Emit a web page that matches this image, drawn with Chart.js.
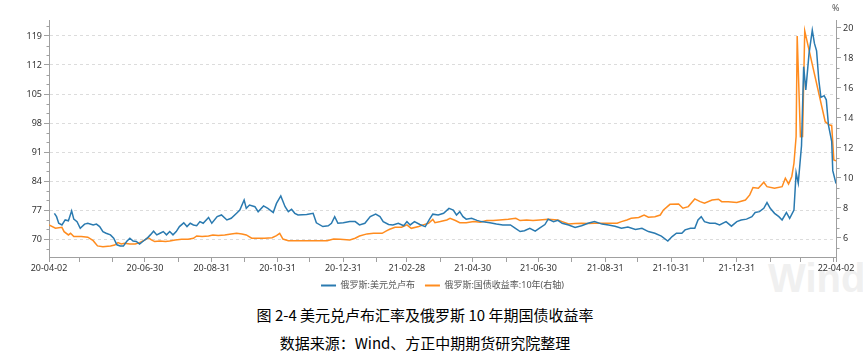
<!DOCTYPE html>
<html>
<head>
<meta charset="utf-8">
<script src="https://cdn.jsdelivr.net/npm/chart.js@4.4.1/dist/chart.umd.min.js"></script>
<style>
  html, body { margin: 0; padding: 0; background: #fff; }
  #wrap { position: relative; width: 863px; height: 359px; overflow: hidden; }
  #chartBox { position: absolute; left: 0; top: 0; width: 863px; height: 300px; }
  .unit { position: absolute; left: 832px; top: 1px; font: 9px "Noto Sans", sans-serif; color: #555; }
  .caption { position: absolute; left: 0; width: 850px; text-align: center;
             font: 15px "Noto Sans CJK SC", sans-serif; color: #000; line-height: 20px; }
  .mark { position: absolute; left: 768px; top: 256px; font: bold 40px "Liberation Sans", Arial, sans-serif; color: #f0f0f0; }
</style>
</head>
<body>
<div id="wrap">
  <div class="mark">Wind</div>
  <div id="chartBox"><canvas id="rubChart" width="863" height="300"></canvas></div>
  <span class="unit">%</span>
  <div class="caption" style="top:305px">图 2-4 美元兑卢布汇率及俄罗斯 10 年期国债收益率</div>
  <div class="caption" style="top:333px">数据来源：Wind、方正中期期货研究院整理</div>
</div>

<script>
/* ─── Data ─── */
const fxLabel    = "俄罗斯:美元兑卢布";
const yieldLabel = "俄罗斯:国债收益率:10年(右轴)";

const fxDates = [
  "2020-04-07","2020-04-09","2020-04-11","2020-04-14","2020-04-17","2020-04-20","2020-04-23","2020-04-25","2020-04-28","2020-05-01",
  "2020-05-05","2020-05-08","2020-05-13","2020-05-16","2020-05-19","2020-05-22","2020-05-25","2020-05-29","2020-06-01","2020-06-04",
  "2020-06-07","2020-06-10","2020-06-13","2020-06-16","2020-06-19","2020-06-22","2020-06-25","2020-06-28","2020-07-02","2020-07-05",
  "2020-07-08","2020-07-11","2020-07-14","2020-07-17","2020-07-20","2020-07-23","2020-07-26","2020-07-29","2020-08-01","2020-08-05",
  "2020-08-08","2020-08-11","2020-08-14","2020-08-17","2020-08-20","2020-08-23","2020-08-28","2020-08-31","2020-09-05","2020-09-09",
  "2020-09-14","2020-09-18","2020-09-23","2020-09-26","2020-09-30","2020-10-02","2020-10-05","2020-10-10","2020-10-13","2020-10-18",
  "2020-10-22","2020-10-27","2020-10-30","2020-11-03","2020-11-07","2020-11-10","2020-11-13","2020-11-16","2020-11-19","2020-11-27",
  "2020-12-03","2020-12-06","2020-12-12","2020-12-17","2020-12-20","2020-12-23","2020-12-26","2020-12-31","2021-01-06","2021-01-11",
  "2021-01-15","2021-01-20","2021-01-25","2021-01-30","2021-02-03","2021-02-06","2021-02-11","2021-02-15","2021-02-20","2021-02-25",
  "2021-02-28","2021-03-03","2021-03-07","2021-03-12","2021-03-17","2021-03-21","2021-03-24","2021-03-29","2021-04-03","2021-04-08",
  "2021-04-12","2021-04-15","2021-04-18","2021-04-21","2021-04-24","2021-04-29","2021-05-04","2021-05-08","2021-05-16","2021-05-22",
  "2021-05-28","2021-06-04","2021-06-08","2021-06-13","2021-06-17","2021-06-22","2021-06-27","2021-07-01","2021-07-06","2021-07-09",
  "2021-07-14","2021-07-18","2021-07-22","2021-07-28","2021-08-03","2021-08-09","2021-08-15","2021-08-21","2021-08-28","2021-09-03",
  "2021-09-09","2021-09-15","2021-09-21","2021-09-28","2021-10-04","2021-10-10","2021-10-16","2021-10-22","2021-10-28","2021-11-01",
  "2021-11-05","2021-11-10","2021-11-13","2021-11-18","2021-11-22","2021-11-25","2021-11-28","2021-12-01","2021-12-06","2021-12-11",
  "2021-12-15","2021-12-21","2021-12-26","2021-12-31","2022-01-04","2022-01-09","2022-01-14","2022-01-17","2022-01-21","2022-01-25",
  "2022-01-28","2022-01-31","2022-02-04","2022-02-08","2022-02-11","2022-02-15","2022-02-18","2022-02-22","2022-02-24","2022-02-26",
  "2022-03-01","2022-03-03","2022-03-05","2022-03-08","2022-03-11","2022-03-13","2022-03-15","2022-03-17","2022-03-19","2022-03-22",
  "2022-03-24","2022-03-26","2022-03-29","2022-03-30","2022-04-02"
];
const fxValues = [
  76.2, 75.4, 73.8, 73.4, 74.6, 74.4, 76.8, 74.8, 74.2, 72.6,
  73.6, 73.8, 73.4, 73.6, 73.0, 71.8, 71.4, 71.0, 70.2, 68.6,
  68.3, 68.3, 69.4, 70.2, 69.5, 69.4, 68.8, 69.4, 70.2, 71.0,
  71.9, 71.0, 71.4, 71.8, 71.0, 71.8, 71.0, 71.8, 73.0, 73.9,
  73.0, 73.8, 73.4, 73.2, 74.2, 73.8, 75.2, 73.8, 75.4, 75.8,
  74.6, 75.0, 76.2, 77.0, 79.4, 77.4, 78.2, 77.8, 76.6, 78.0,
  77.4, 76.4, 78.6, 80.4, 77.8, 76.6, 77.2, 76.2, 75.8, 75.9,
  76.2, 73.9, 73.0, 73.2, 73.8, 75.4, 73.8, 73.9, 74.2, 74.2,
  73.4, 73.8, 75.4, 76.0, 75.4, 74.2, 73.5, 73.4, 73.8, 73.2,
  74.2, 73.4, 74.2, 73.5, 73.0, 74.8, 76.0, 75.8, 76.2, 77.4,
  77.0, 75.8, 76.6, 75.4, 74.8, 75.0, 74.5, 74.2, 73.9, 73.6,
  73.4, 73.4, 72.7, 71.8, 72.0, 72.6, 71.9, 72.6, 73.5, 74.8,
  74.2, 74.5, 73.8, 73.4, 72.8, 73.2, 73.8, 74.2, 73.6, 73.4,
  73.1, 72.6, 72.9, 72.3, 72.6, 71.8, 71.4, 70.7, 69.5, 70.6,
  71.4, 71.4, 72.2, 72.6, 72.6, 74.6, 75.4, 74.2, 73.8, 73.8,
  73.4, 74.2, 73.1, 74.2, 74.6, 74.8, 75.4, 76.4, 76.6, 77.4,
  78.8, 77.4, 76.2, 75.4, 74.6, 76.4, 75.0, 77.0, 86.0, 83.5,
  92.5, 111.6, 106.0, 114.8, 120.4, 117.2, 115.4, 108.5, 104.2, 104.6,
  103.6, 97.5, 93.6, 86.5, 83.4
];

const yieldDates = [
  "2020-04-02","2020-04-08","2020-04-14","2020-04-16","2020-04-20","2020-04-22","2020-04-25","2020-05-02","2020-05-08","2020-05-13",
  "2020-05-17","2020-05-22","2020-05-29","2020-06-02","2020-06-05","2020-06-08","2020-06-11","2020-06-16","2020-06-21","2020-06-25",
  "2020-06-30","2020-07-03","2020-07-06","2020-07-09","2020-07-14","2020-07-19","2020-07-23","2020-07-28","2020-08-03","2020-08-09",
  "2020-08-14","2020-08-17","2020-08-22","2020-08-28","2020-09-01","2020-09-06","2020-09-12","2020-09-18","2020-09-23","2020-09-28",
  "2020-10-02","2020-10-07","2020-10-13","2020-10-19","2020-10-26","2020-10-30","2020-11-02","2020-11-05","2020-11-10","2020-11-16",
  "2020-11-24","2020-12-03","2020-12-16","2020-12-22","2020-12-28","2021-01-06","2021-01-11","2021-01-15","2021-01-22","2021-01-28",
  "2021-02-05","2021-02-09","2021-02-12","2021-02-17","2021-02-23","2021-02-28","2021-03-04","2021-03-11","2021-03-15","2021-03-20",
  "2021-03-24","2021-03-26","2021-03-31","2021-04-06","2021-04-09","2021-04-14","2021-04-18","2021-04-24","2021-05-01","2021-05-07",
  "2021-05-13","2021-05-19","2021-05-25","2021-06-02","2021-06-09","2021-06-13","2021-06-19","2021-06-25","2021-07-01","2021-07-09",
  "2021-07-18","2021-07-22","2021-07-28","2021-08-03","2021-08-09","2021-08-15","2021-08-21","2021-08-28","2021-09-03","2021-09-11",
  "2021-09-15","2021-09-20","2021-09-24","2021-10-01","2021-10-06","2021-10-10","2021-10-16","2021-10-21","2021-10-24","2021-10-30",
  "2021-11-07","2021-11-11","2021-11-16","2021-11-22","2021-11-27","2021-12-01","2021-12-08","2021-12-14","2021-12-17","2021-12-23",
  "2021-12-31","2022-01-08","2022-01-12","2022-01-15","2022-01-20","2022-01-25","2022-01-28","2022-02-04","2022-02-11","2022-02-14",
  "2022-02-17","2022-02-20","2022-02-22","2022-02-24","2022-02-25","2022-02-28","2022-03-02","2022-03-04","2022-03-23","2022-03-27",
  "2022-03-29","2022-03-31","2022-04-02"
];
const yieldValues = [
  6.87, 6.65, 6.71, 6.42, 6.20, 6.31, 6.09, 6.09, 6.05, 5.82,
  5.47, 5.42, 5.47, 5.53, 5.69, 5.60, 5.64, 5.60, 5.60, 5.69,
  5.87, 6.02, 5.87, 5.76, 5.80, 5.76, 5.80, 5.87, 5.91, 5.91,
  5.98, 6.13, 6.09, 6.13, 6.20, 6.16, 6.20, 6.27, 6.31, 6.27,
  6.20, 5.98, 5.98, 5.98, 6.02, 6.16, 6.31, 5.93, 5.82, 5.82,
  5.82, 5.82, 5.82, 5.93, 5.91, 5.87, 5.98, 6.13, 6.27, 6.31,
  6.31, 6.47, 6.58, 6.71, 6.71, 6.87, 6.64, 6.76, 6.87, 6.98,
  7.24, 7.02, 7.09, 7.20, 7.31, 7.16, 7.02, 7.02, 7.09, 7.05,
  7.16, 7.16, 7.20, 7.24, 7.31, 7.16, 7.20, 7.16, 7.20, 7.24,
  7.20, 7.09, 6.93, 6.96, 6.98, 6.96, 6.98, 6.98, 6.98, 6.98,
  7.09, 7.20, 7.31, 7.36, 7.53, 7.38, 7.42, 7.53, 7.87, 8.24,
  8.27, 7.98, 8.09, 8.60, 8.42, 8.31, 8.53, 8.58, 8.42, 8.42,
  8.36, 8.53, 8.87, 9.36, 9.31, 9.71, 9.42, 9.31, 9.42, 9.98,
  9.60, 10.10, 10.98, 12.76, 19.47, 12.75, 12.76, 19.80, 13.75, 13.53,
  13.50, 11.20, 11.15
];

const xTickLabels = ["20-04-02","20-06-30","20-08-31","20-10-31","20-12-31","21-02-28",
                     "21-04-30","21-06-30","21-08-31","21-10-31","21-12-31","22-04-02"];
const leftTicks  = [70, 77, 84, 91, 98, 105, 112, 119];
const rightTicks = [6, 8, 10, 12, 14, 16, 18, 20];

/* ─── Helpers ─── */
const START = Date.UTC(2020, 3, 2);
function dayOf(s) {
  const [y, m, d] = s.split("-").map(Number);
  return Math.round((Date.UTC(y, m - 1, d) - START) / 86400000);
}
const labelByDay = {};
xTickLabels.forEach(l => { labelByDay[dayOf("20" + l)] = l; });

// tick marks at every month end, plus both ends of the range
const xTickDays = [0];
for (let y = 2020, m = 3; y < 2022 || m < 3; ) {
  xTickDays.push(Math.round((Date.UTC(y, m + 1, 0) - START) / 86400000));
  m++; if (m > 11) { m = 0; y++; }
}
xTickDays.push(dayOf("2022-04-02"));

const toPoints = (dates, vals) => dates.map((d, i) => ({ x: dayOf(d), y: vals[i] }));

/* ─── Minor ticks on both value axes ─── */
const minorTicks = {
  id: "minorTicks",
  afterDraw(chart) {
    const ctx = chart.ctx;
    ctx.save();
    ctx.strokeStyle = "#a0a0a0";
    ctx.lineWidth = 1;
    ctx.beginPath();
    [["y", leftTicks, -1], ["y1", rightTicks, 1]].forEach(([id, ticks, dir]) => {
      const s = chart.scales[id];
      const step = (ticks[1] - ticks[0]) / 3;
      const x0 = Math.round(dir < 0 ? s.right : s.left) + 0.5;
      for (let k = -10; k < ticks.length * 3 + 10; k++) {
        if (k % 3 === 0) continue;
        const v = ticks[0] + k * step;
        if (v < s.min || v > s.max) continue;
        const py = Math.round(s.getPixelForValue(v)) + 0.5;
        ctx.moveTo(x0, py);
        ctx.lineTo(x0 + dir * 3, py);
      }
    });
    ctx.stroke();
    ctx.restore();
  }
};

/* ─── Chart ─── */
Chart.defaults.font.family = '"Noto Sans", "Noto Sans CJK SC", sans-serif';

new Chart(document.getElementById("rubChart"), {
  type: "line",
  data: {
    datasets: [
      {
        label: fxLabel,
        data: toPoints(fxDates, fxValues),
        yAxisID: "y",
        borderColor: "#2a7ab0",
        backgroundColor: "#2a7ab0",
        borderWidth: 1.5,
        pointRadius: 0,
        tension: 0,
      },
      {
        label: yieldLabel,
        data: toPoints(yieldDates, yieldValues),
        yAxisID: "y1",
        borderColor: "#ff8c1f",
        backgroundColor: "#ff8c1f",
        borderWidth: 1.5,
        pointRadius: 0,
        tension: 0,
      },
    ],
  },
  options: {
    responsive: false,
    animation: false,
    devicePixelRatio: 1,
    layout: { padding: { top: 20, left: 0, right: 0, bottom: 0 } },
    plugins: {
      legend: {
        position: "bottom",
        fullSize: false,
        labels: {
          boxWidth: 15, boxHeight: 2, padding: 10,
          color: "#555", font: { size: 9 },
          generateLabels: chart =>
            Chart.defaults.plugins.legend.labels.generateLabels(chart).map(l => Object.assign(l, { lineWidth: 0 })),
        },
      },
      tooltip: { enabled: false },
    },
    scales: {
      x: {
        type: "linear",
        min: 0, max: dayOf("2022-04-02"),
        afterBuildTicks: s => { s.ticks = xTickDays.map(v => ({ value: v })); },
        afterFit: s => { s.height = 14; },
        ticks: {
          autoSkip: false, maxRotation: 0, padding: 1,
          color: "#333", font: { size: 9 },
          callback: v => labelByDay[v] || "",
        },
        grid: { drawOnChartArea: false, tickLength: 5, color: "#a0a0a0" },
        border: { color: "#a0a0a0" },
      },
      y: {
        position: "left",
        min: 65.66, max: 122.86,
        afterBuildTicks: s => { s.ticks = leftTicks.map(v => ({ value: v })); },
        afterFit: s => { s.width = 49; },
        ticks: { color: "#333", font: { size: 9 }, padding: 2 },
        grid: { color: "#dcdcdc", tickColor: "#a0a0a0", tickLength: 5, tickBorderDash: [] },
        border: { color: "#a0a0a0", dash: [3, 3] },
      },
      y1: {
        position: "right",
        min: 4.73, max: 20.53,
        afterBuildTicks: s => { s.ticks = rightTicks.map(v => ({ value: v })); },
        afterFit: s => { s.width = 27; },
        ticks: { color: "#333", font: { size: 9 }, padding: 2 },
        grid: { drawOnChartArea: false, tickColor: "#a0a0a0", tickLength: 5 },
        border: { color: "#a0a0a0" },
      },
    },
  },
  plugins: [minorTicks],
});
</script>
</body>
</html>
